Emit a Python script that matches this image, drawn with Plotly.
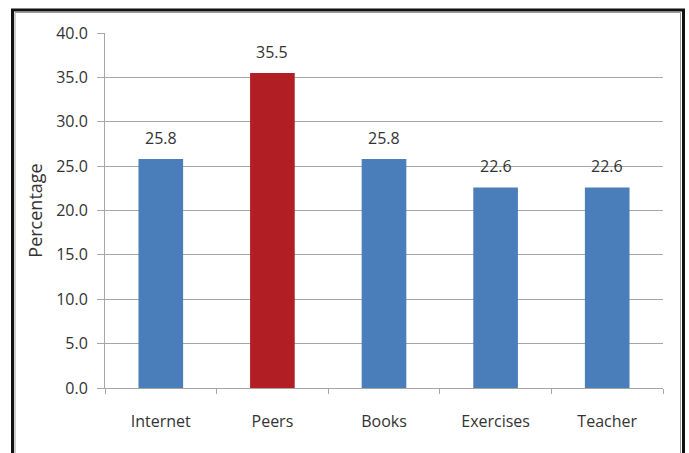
import plotly.graph_objects as go

categories = ["Internet", "Peers", "Books", "Exercises", "Teacher"]
values = [25.8, 35.5, 25.8, 22.6, 22.6]
bar_colors = ["#4A7EBB", "#B11E24", "#4A7EBB", "#4A7EBB", "#4A7EBB"]
y_ticks = [0, 5, 10, 15, 20, 25, 30, 35, 40]

W, H = 689, 453
L, R, T, B = 105, 663, 33, 388
FONT = "Open Sans"
TXT = "#333333"
GRID = "#A6A6A6"

fig = go.Figure(go.Bar(
    x=categories, y=values, marker=dict(color=bar_colors, line=dict(width=0)),
    width=0.4, hoverinfo="x+y",
))

for c, v in zip(categories, values):
    fig.add_annotation(x=c, y=v, text=f"{v:.1f}", showarrow=False,
                       yanchor="bottom", yshift=8,
                       font=dict(family=FONT, size=16, color=TXT))

def px(x):
    return (x - L) / (R - L)

def py(y):
    return (B - y) / (B - T)

# frame: thick black outer, thin gray inner
fig.add_shape(type="rect", xref="paper", yref="paper",
              x0=px(12.5), x1=px(683.5), y0=py(480), y1=py(10),
              line=dict(color="#111111", width=3), layer="above")
fig.add_shape(type="rect", xref="paper", yref="paper",
              x0=px(15), x1=px(680.5), y0=py(480), y1=py(12.5),
              line=dict(color="#9a9a9a", width=1), layer="above")

fig.update_layout(
    width=W, height=H,
    margin=dict(l=L, r=W - R, t=T, b=H - B, pad=0),
    paper_bgcolor="white", plot_bgcolor="white",
    showlegend=False,
    font=dict(family=FONT, size=16, color=TXT),
    bargap=0.6,
)
fig.update_xaxes(
    type="category", tickson="boundaries", ticks="outside", ticklen=5,
    tickcolor=GRID, showline=True, linecolor=GRID, linewidth=1,
    showgrid=False, ticklabelstandoff=19,
    tickfont=dict(family=FONT, size=16, color=TXT),
)
fig.update_yaxes(
    range=[0, 40], tickvals=y_ticks, tickformat=".1f", ticks="outside",
    ticklen=7, tickcolor=GRID, showline=True, linecolor=GRID, linewidth=1,
    showgrid=True, gridcolor=GRID, gridwidth=1, zeroline=False,
    ticklabelstandoff=6,
    tickfont=dict(family=FONT, size=16, color=TXT),
    title=dict(text="Percentage", standoff=8,
               font=dict(family=FONT, size=18, color=TXT)),
)

fig.write_html("out.html")
